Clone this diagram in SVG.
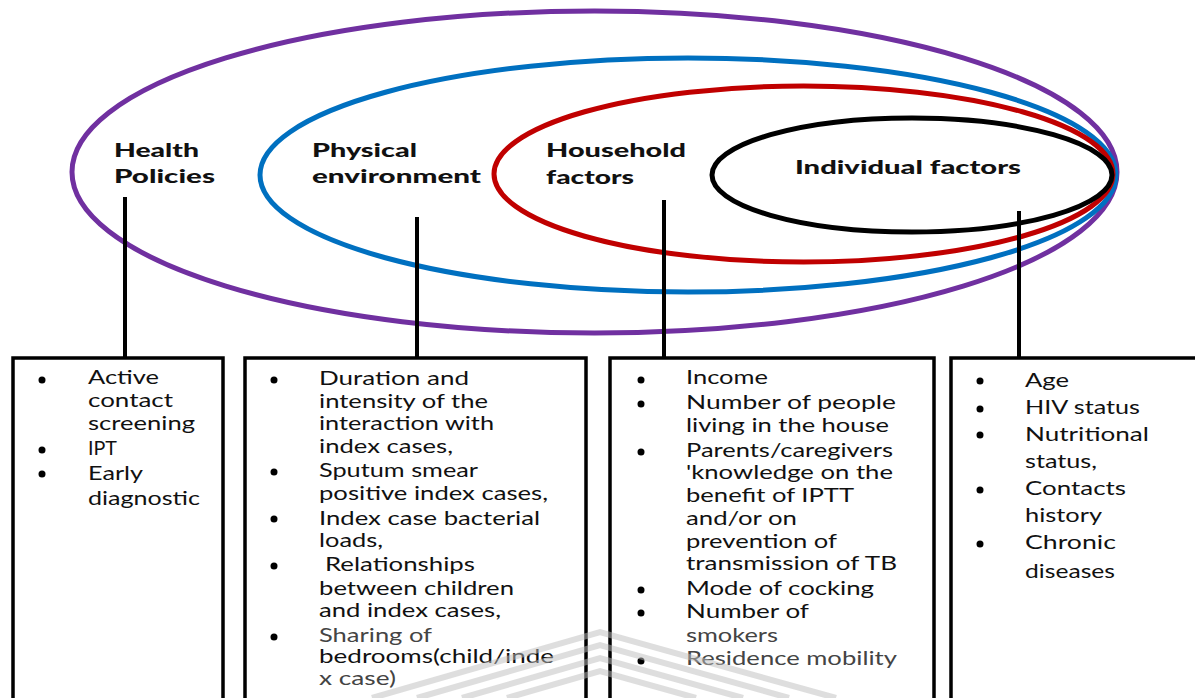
<svg xmlns="http://www.w3.org/2000/svg" width="1195" height="698" viewBox="0 0 1195 698">
  <style>
    .ring { fill: none; stroke-width: 5; }
    .box { fill: #ffffff; stroke: #000000; stroke-width: 3.5; }
    .link { stroke: #000000; stroke-width: 4; }
    .bul { fill: #000000; }
    .t { font-family: Lato, "Liberation Sans", sans-serif; font-size: 19px; fill: #111111; }
    .h { font-family: Lato, "Liberation Sans", sans-serif; font-size: 19px; font-weight: 900; fill: #111111; }
    .g { fill: #444444; }
    .wm { fill: none; stroke: #bdbdbd; stroke-width: 6; stroke-opacity: 0.5; }
  </style>

  <!-- nested spheres of influence -->
  <g id="health-policies">
    <ellipse class="ring" cx="594.5" cy="172" rx="522.5" ry="161" stroke="#7030A0"/>
    <text class="h" x="114" y="157" textLength="85" lengthAdjust="spacingAndGlyphs">Health</text>
    <text class="h" x="114" y="183" textLength="101" lengthAdjust="spacingAndGlyphs">Policies</text>
  </g>
  <g id="physical-environment">
    <ellipse class="ring" cx="688" cy="175" rx="428" ry="117" stroke="#0070C0"/>
    <text class="h" x="312" y="157" textLength="105" lengthAdjust="spacingAndGlyphs">Physical</text>
    <text class="h" x="312" y="183" textLength="169" lengthAdjust="spacingAndGlyphs">environment</text>
  </g>
  <g id="household-factors">
    <ellipse class="ring" cx="803.5" cy="174" rx="309.5" ry="88" stroke="#C00000" stroke-width="4"/>
    <text class="h" x="546" y="157" textLength="140" lengthAdjust="spacingAndGlyphs">Household</text>
    <text class="h" x="546" y="184" textLength="88" lengthAdjust="spacingAndGlyphs">factors</text>
  </g>
  <g id="individual-factors">
    <ellipse class="ring" cx="912" cy="175" rx="200" ry="57" stroke="#000000"/>
    <text class="h" x="795" y="174" textLength="226" lengthAdjust="spacingAndGlyphs">Individual factors</text>
  </g>

  <!-- drop lines from each level to its list -->
  <g id="connectors">
    <line class="link" x1="125" y1="197" x2="125" y2="358"/>
    <line class="link" x1="417" y1="217" x2="417" y2="358"/>
    <line class="link" x1="664" y1="200" x2="664" y2="358"/>
    <line class="link" x1="1019" y1="211" x2="1019" y2="358"/>
  </g>

  <g id="box-health">
    <rect class="box" x="13" y="358" width="210" height="360"/>
    <circle class="bul" cx="42" cy="380" r="3.5"/>
    <circle class="bul" cx="42" cy="450" r="3.5"/>
    <circle class="bul" cx="42" cy="474" r="3.5"/>
    <text class="t" x="88" y="384" textLength="71" lengthAdjust="spacingAndGlyphs">Active</text>
    <text class="t" x="88" y="407" textLength="85" lengthAdjust="spacingAndGlyphs">contact</text>
    <text class="t" x="88" y="430" textLength="107" lengthAdjust="spacingAndGlyphs">screening</text>
    <text class="t" x="88" y="455" textLength="29" lengthAdjust="spacingAndGlyphs">IPT</text>
    <text class="t" x="88" y="480" textLength="55" lengthAdjust="spacingAndGlyphs">Early</text>
    <text class="t" x="88" y="505" textLength="112" lengthAdjust="spacingAndGlyphs">diagnostic</text>
  </g>

  <g id="box-physical">
    <rect class="box" x="245" y="358" width="341" height="360"/>
    <circle class="bul" cx="274" cy="380" r="3.5"/>
    <circle class="bul" cx="274" cy="472" r="3.5"/>
    <circle class="bul" cx="274" cy="519" r="3.5"/>
    <circle class="bul" cx="274" cy="566" r="3.5"/>
    <circle class="bul" cx="274" cy="637" r="3.5"/>
    <text class="t" x="319" y="385" textLength="150" lengthAdjust="spacingAndGlyphs">Duration and</text>
    <text class="t" x="319" y="408" textLength="169" lengthAdjust="spacingAndGlyphs">intensity of the</text>
    <text class="t" x="319" y="430" textLength="175" lengthAdjust="spacingAndGlyphs">interaction with</text>
    <text class="t" x="319" y="453" textLength="134" lengthAdjust="spacingAndGlyphs">index cases,</text>
    <text class="t" x="319" y="477" textLength="159" lengthAdjust="spacingAndGlyphs">Sputum smear</text>
    <text class="t" x="319" y="500" textLength="229" lengthAdjust="spacingAndGlyphs">positive index cases,</text>
    <text class="t" x="319" y="525" textLength="221" lengthAdjust="spacingAndGlyphs">Index case bacterial</text>
    <text class="t" x="319" y="547" textLength="64" lengthAdjust="spacingAndGlyphs">loads,</text>
    <text class="t" x="325" y="571" textLength="150" lengthAdjust="spacingAndGlyphs">Relationships</text>
    <text class="t" x="319" y="595" textLength="195" lengthAdjust="spacingAndGlyphs">between children</text>
    <text class="t" x="319" y="617" textLength="182" lengthAdjust="spacingAndGlyphs">and index cases,</text>
    <text class="t g" x="319" y="642" textLength="113" lengthAdjust="spacingAndGlyphs">Sharing of</text>
    <text class="t" x="319" y="663" textLength="235" lengthAdjust="spacingAndGlyphs">bedrooms(child/inde</text>
    <text class="t g" x="319" y="685" textLength="77" lengthAdjust="spacingAndGlyphs">x case)</text>
  </g>

  <g id="box-household">
    <rect class="box" x="610" y="358" width="324" height="360"/>
    <circle class="bul" cx="641" cy="380" r="3.5"/>
    <circle class="bul" cx="641" cy="404" r="3.5"/>
    <circle class="bul" cx="641" cy="452" r="3.5"/>
    <circle class="bul" cx="641" cy="590" r="3.5"/>
    <circle class="bul" cx="641" cy="613" r="3.5"/>
    <circle class="bul" cx="641" cy="661" r="3.5"/>
    <text class="t" x="686" y="384" textLength="82" lengthAdjust="spacingAndGlyphs">Income</text>
    <text class="t" x="686" y="409" textLength="210" lengthAdjust="spacingAndGlyphs">Number of people</text>
    <text class="t" x="686" y="432" textLength="203" lengthAdjust="spacingAndGlyphs">living in the house</text>
    <text class="t" x="686" y="457" textLength="207" lengthAdjust="spacingAndGlyphs">Parents/caregivers</text>
    <text class="t" x="686" y="479" textLength="207" lengthAdjust="spacingAndGlyphs">'knowledge on the</text>
    <text class="t" x="686" y="502" textLength="168" lengthAdjust="spacingAndGlyphs">benefit of IPTT</text>
    <text class="t" x="686" y="525" textLength="111" lengthAdjust="spacingAndGlyphs">and/or on</text>
    <text class="t" x="686" y="548" textLength="151" lengthAdjust="spacingAndGlyphs">prevention of</text>
    <text class="t" x="686" y="570" textLength="211" lengthAdjust="spacingAndGlyphs">transmission of TB</text>
    <text class="t" x="686" y="595" textLength="188" lengthAdjust="spacingAndGlyphs">Mode of cocking</text>
    <text class="t" x="686" y="618" textLength="123" lengthAdjust="spacingAndGlyphs">Number of</text>
    <text class="t g" x="686" y="642" textLength="92" lengthAdjust="spacingAndGlyphs">smokers</text>
    <text class="t g" x="686" y="665" textLength="211" lengthAdjust="spacingAndGlyphs">Residence mobility</text>
  </g>

  <g id="box-individual">
    <rect class="box" x="951" y="358" width="260" height="360"/>
    <circle class="bul" cx="980" cy="381" r="3.5"/>
    <circle class="bul" cx="980" cy="409" r="3.5"/>
    <circle class="bul" cx="980" cy="435" r="3.5"/>
    <circle class="bul" cx="980" cy="490" r="3.5"/>
    <circle class="bul" cx="980" cy="544" r="3.5"/>
    <text class="t" x="1025" y="387" textLength="44" lengthAdjust="spacingAndGlyphs">Age</text>
    <text class="t" x="1025" y="414" textLength="115" lengthAdjust="spacingAndGlyphs">HIV status</text>
    <text class="t" x="1025" y="441" textLength="124" lengthAdjust="spacingAndGlyphs">Nutritional</text>
    <text class="t" x="1025" y="468" textLength="72" lengthAdjust="spacingAndGlyphs">status,</text>
    <text class="t" x="1025" y="495" textLength="101" lengthAdjust="spacingAndGlyphs">Contacts</text>
    <text class="t" x="1025" y="522" textLength="77" lengthAdjust="spacingAndGlyphs">history</text>
    <text class="t" x="1025" y="549" textLength="91" lengthAdjust="spacingAndGlyphs">Chronic</text>
    <text class="t" x="1025" y="578" textLength="90" lengthAdjust="spacingAndGlyphs">diseases</text>
  </g>

  <!-- faint chevron stripes across the lower edge -->
  <g id="stripes">
    <polyline class="wm" points="372,698 600,632 836,698"/>
    <polyline class="wm" points="417,698 600,645 789,698"/>
    <polyline class="wm" points="462,698 600,658 743,698"/>
    <polyline class="wm" points="507,698 600,671 696,698"/>
  </g>
</svg>
